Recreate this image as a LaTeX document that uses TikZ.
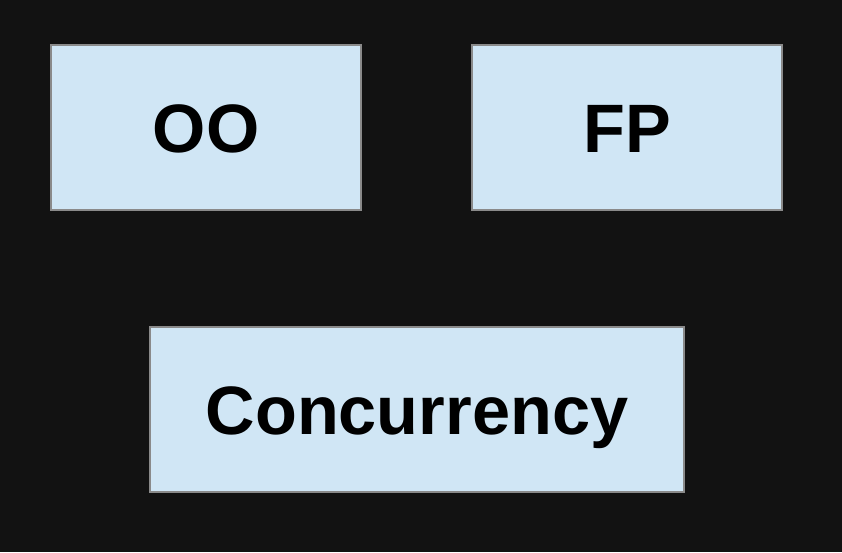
\documentclass[tikz,border=0pt]{standalone}
\usepackage{fontspec}
\setmainfont{Liberation Sans}
\definecolor{bg}{HTML}{121212}
\definecolor{boxfill}{HTML}{D0E6F5}
\definecolor{boxline}{HTML}{8A8A8A}
\begin{document}
\begin{tikzpicture}[x=1pt,y=-1pt,
  box/.style={draw=boxline,line width=1.5pt,fill=boxfill,inner sep=0pt,
    minimum height=165pt,text depth=0pt,text height=49.5pt,
    font=\fontsize{68.5}{75}\selectfont\bfseries,text=black}]
\fill[bg] (0,0) rectangle (842,552);
\useasboundingbox (0,0) rectangle (842,552);
\node[box,minimum width=310pt] (oo) at (206,127.5) {OO};
\node[box,minimum width=310pt] (fp) at (627,127.5) {FP};
\node[box,minimum width=534pt] (cc) at (417,409.5) {Concurrency};
\end{tikzpicture}
\end{document}
